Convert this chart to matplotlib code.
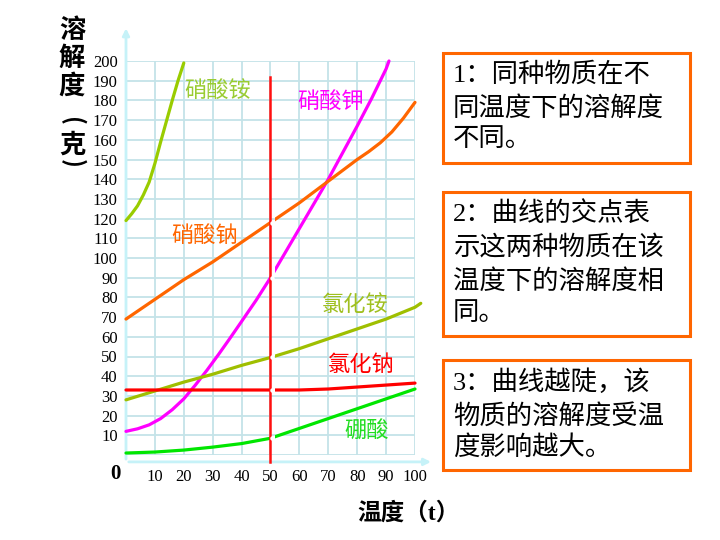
import matplotlib
matplotlib.use('Agg')
import matplotlib.pyplot as plt
from matplotlib.patches import Rectangle

plt.rcParams['font.family'] = ['Liberation Serif', 'Noto Sans CJK SC', 'DejaVu Sans']

# ---------------- data ----------------
x_ticks = [0, 10, 20, 30, 40, 50, 60, 70, 80, 90, 100]
x_labels = ['', '10', '20', '30', '40', '50', '60', '70', '80', '90', '100']
y_ticks = list(range(0, 201, 10))
y_labels = [''] + [str(v) for v in range(10, 201, 10)]

nh4no3_t = [0, 2, 4, 6, 8, 10, 12, 14, 16, 18, 20]
nh4no3_s = [119, 122.5, 126.5, 132, 138.5, 148, 159, 169.5, 180, 190, 199]

kno3_t = [0, 4, 8, 12, 16, 20, 24, 28, 32, 36, 40, 45, 50, 55, 60, 65, 70, 75, 80, 85, 90, 91]
kno3_s = [12, 13.3, 15.3, 18.5, 23, 28.5, 35.5, 43, 51, 59.3, 67.8, 78.5, 90, 102.5, 115,
          127.5, 140, 153.5, 167, 181, 196, 200]

nano3_t = [0, 10, 20, 30, 40, 50, 60, 70, 80, 84, 88, 92, 96, 100]
nano3_s = [69, 79, 89, 98, 108, 118, 128, 139, 150, 154, 158.5, 164, 171, 179]

nh4cl_t = [0, 10, 20, 30, 40, 50, 60, 70, 80, 90, 100, 102]
nh4cl_s = [28, 32.5, 37, 41, 45.5, 49.5, 54, 59, 64, 69, 75, 77]

nacl_t = [0, 10, 20, 30, 40, 50, 60, 70, 80, 90, 100]
nacl_s = [33, 33, 33, 33, 33, 33, 33, 33.5, 34.5, 35.5, 36.5]

h3bo3_t = [0, 10, 20, 30, 40, 50, 60, 70, 80, 90, 100]
h3bo3_s = [1, 1.5, 2.5, 4, 5.8, 8.5, 13.5, 18.5, 23.5, 28.5, 33.5]

marker_temp = 50

box_texts = [
    ['1：同种物质在不', '同温度下的溶解度', '不同。'],
    ['2：曲线的交点表', '示这两种物质在该', '温度下的溶解度相', '同。'],
    ['3：曲线越陡，该', '物质的溶解度受温', '度影响越大。'],
]

# ---------------- figure ----------------
W, H = 720, 540
fig = plt.figure(figsize=(7.2, 5.4), dpi=100)
fig.patch.set_facecolor('white')
L, R, T, B = 126, 415, 61, 455
ax = fig.add_axes([L / W, 1 - B / H, (R - L) / W, (B - T) / H])
ax.set_xlim(0, 100)
ax.set_ylim(0, 200)
for sp in ax.spines.values():
    sp.set_visible(False)
ax.set_xticks(x_ticks)
ax.set_xticklabels(x_labels, fontfamily='Liberation Serif', fontsize=12)
ax.set_yticks(y_ticks)
ax.set_yticklabels(y_labels, fontfamily='Liberation Serif', fontsize=12)
ax.tick_params(axis='x', length=0, pad=10)
ax.tick_params(axis='y', length=0, pad=6)
ax.grid(True, color='#c4e3e8', lw=1.3)
ax.set_axisbelow(True)

# axis arrows
arrow_c = '#c6f2f8'
ax.annotate('', xy=(0, 218), xytext=(0, -3.5),
            arrowprops=dict(arrowstyle='-|>', color=arrow_c, lw=2, mutation_scale=10),
            annotation_clip=False)
ax.annotate('', xy=(106.5, -3.5), xytext=(0, -3.5),
            arrowprops=dict(arrowstyle='-|>', color=arrow_c, lw=2, mutation_scale=10),
            annotation_clip=False)

# red vertical line at 50
ax.plot([marker_temp, marker_temp], [-3.5, 192], color='#ff1010', lw=1.8,
        clip_on=False, zorder=4)


def draw_curve(t, s, color, gap=True):
    if not gap:
        ax.plot(t, s, color=color, lw=2.3, clip_on=False, zorder=3,
                solid_capstyle='round', solid_joinstyle='round')
        return
    left = Rectangle((-20, -50), 20 + marker_temp, 400, transform=ax.transData)
    right = Rectangle((marker_temp + 1.6, -50), 80, 400, transform=ax.transData)
    for clip in (left, right):
        ln, = ax.plot(t, s, color=color, lw=2.3, zorder=3, solid_capstyle='round',
                      solid_joinstyle='round')
        ln.set_clip_path(clip)
    if marker_temp in t:
        yv = s[t.index(marker_temp)]
        ax.plot([marker_temp + 0.6], [yv], 'o', color='white', ms=3.2,
                mec='none', zorder=5, clip_on=False)


draw_curve(nh4no3_t, nh4no3_s, '#99cc00', gap=False)
draw_curve(kno3_t, kno3_s, '#ff00ff')
draw_curve(nano3_t, nano3_s, '#ff6600')
draw_curve(nh4cl_t, nh4cl_s, '#9fbf00')
draw_curve(nacl_t, nacl_s, '#ff0000')
draw_curve(h3bo3_t, h3bo3_s, '#00e600')

cjk = ['Noto Sans CJK SC', 'DejaVu Sans']
lab_kw = dict(fontsize=16, ha='center', va='center', family=cjk)
ax.text(31.8, 185, '硝酸铵', color='#99cc33', **lab_kw)
ax.text(70.9, 179.5, '硝酸钾', color='#ff00ff', **lab_kw)
ax.text(27.3, 111.7, '硝酸钠', color='#ff6600', **lab_kw)
ax.text(79.2, 76.5, '氯化铵', color='#a0c020', **lab_kw)
ax.text(81.3, 46, '氯化钠', color='#ff0000', **lab_kw)
ax.text(83.4, 12, '硼酸', color='#22dd22', **lab_kw)


def fx(px):
    return px / W


def fy(py):
    return 1 - py / H


# origin 0
fig.text(fx(115), fy(474), '0', fontsize=15, fontweight='bold',
         family='Liberation Serif', ha='center', va='center')

# y label (vertical stacked)
for ch, py in [('溶', 30), ('解', 58), ('度', 86), ('克', 145)]:
    fig.text(fx(72), fy(py), ch, fontsize=19, fontweight='bold', family=cjk,
             ha='center', va='center')
for ch, py in [('(', 121), (')', 163)]:
    fig.text(fx(72), fy(py), ch, fontsize=17, fontweight='bold', family=cjk,
             ha='center', va='center', rotation=-90)

# x label
fig.text(fx(409), fy(513), '温度（t）', fontsize=17, fontweight='bold',
         family=['Liberation Serif', 'Noto Sans CJK SC'], ha='center', va='center')

# text boxes
boxes = [(443, 53, 690, 163, [75, 109, 140]),
         (443, 192, 690, 336, [213, 247, 281, 314]),
         (443, 360, 690, 470, [382, 416, 448])]
for (x0, y0, x1, y1, ys), lines in zip(boxes, box_texts):
    rect = Rectangle((fx(x0), fy(y1)), fx(x1) - fx(x0), fy(y0) - fy(y1),
                     transform=fig.transFigure, fill=False, ec='#ff6600', lw=2.2)
    fig.add_artist(rect)
    for line, py in zip(lines, ys):
        fig.text(fx(453), fy(py), line, fontsize=19, family=['Liberation Serif', 'Noto Sans CJK SC'],
                 ha='left', va='center', color='black')

fig.savefig('out.png', dpi=100, facecolor='white')
